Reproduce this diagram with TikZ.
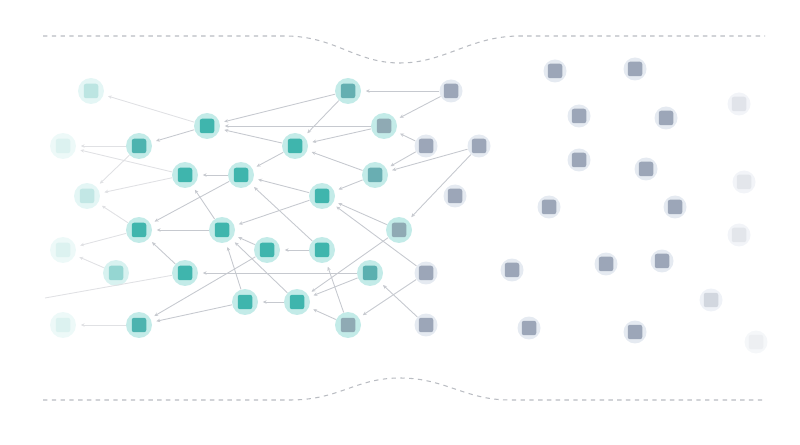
\documentclass[tikz,border=0pt]{standalone}
\usepackage{xcolor}
\usepackage{tikz}
\usetikzlibrary{arrows.meta}
\definecolor{verde}{HTML}{3FB5AD}
\definecolor{halover}{HTML}{C3EBE8}
\definecolor{grisver}{HTML}{8FAAB4}
\definecolor{gris}{HTML}{9CA6B8}
\definecolor{halogris}{HTML}{E5EAF1}
\definecolor{linea}{HTML}{C6C9CF}
\definecolor{borde}{HTML}{B9BCC2}

\begin{document}
\begin{tikzpicture}[x=0.02cm,y=-0.02cm,
  celda/.style n args={3}{circle,inner sep=0pt,fill=#2,minimum size=#3,
    path picture={\fill[#1,rounded corners=1.3pt]
      ([shift={(-0.145cm,-0.145cm)}]path picture bounding box.center) rectangle
      ([shift={(0.145cm,0.145cm)}]path picture bounding box.center);}},
  activa/.style={celda={verde}{halover}{0.52cm}},
  mixta/.style={celda={grisver}{halover}{0.52cm}},
  inerte/.style={celda={gris}{halogris}{0.46cm}},
  flecha/.style={-{Stealth[length=2.2pt,width=2pt]},line width=0.5pt,linea,shorten >=2.5pt},
  tenue/.style={flecha,linea!55},
  limite/.style={borde,line width=0.6pt,dash pattern=on 2.5pt off 2.5pt}]
\useasboundingbox (0,0) rectangle (800,445);
% bordes del canal
\draw[limite] (43,36) -- (285,36) .. controls (335,36) and (355,63) .. (400,63)
  .. controls (445,63) and (470,36) .. (520,36) -- (765,36);
\draw[limite] (43,400) -- (290,400) .. controls (340,400) and (355,378) .. (400,378)
  .. controls (445,378) and (465,400) .. (510,400) -- (765,400);
% nodos que se desvanecen a la izquierda
\node[celda={verde!35}{halover!45}{0.52cm}] (fa) at (91,91) {};
\node[celda={verde!18}{halover!30}{0.52cm}] (fb) at (63,146) {};
\node[celda={verde!32}{halover!45}{0.52cm}] (fc) at (87,196) {};
\node[celda={verde!18}{halover!30}{0.52cm}] (fd) at (63,250) {};
\node[celda={verde!55}{halover!65}{0.52cm}] (fe) at (116,273) {};
\node[celda={verde!18}{halover!30}{0.52cm}] (ff) at (63,325) {};
% nodos activos
\node[activa] (ta) at (207,126) {};
\node[activa] (tb) at (295,146) {};
\node[activa] (tc) at (185,175) {};
\node[activa] (td) at (241,175) {};
\node[activa] (te) at (322,196) {};
\node[activa] (tf) at (222,230) {};
\node[activa] (tg) at (267,250) {};
\node[activa] (th) at (322,250) {};
\node[activa] (ti) at (185,273) {};
\node[activa] (tj) at (245,302) {};
\node[activa] (tk) at (297,302) {};
\node[celda={verde!85!gris}{halover}{0.52cm}] (tl) at (139,146) {};
\node[activa] (tm) at (139,230) {};
\node[celda={verde!85!gris}{halover}{0.52cm}] (tn) at (139,325) {};
% frontera
\node[celda={verde!60!gris}{halover}{0.52cm}] (mo) at (348,91) {};
\node[mixta] (mp) at (384,126) {};
\node[celda={verde!55!gris}{halover}{0.52cm}] (mq) at (375,175) {};
\node[mixta] (mr) at (399,230) {};
\node[celda={verde!70!gris}{halover}{0.52cm}] (ms) at (370,273) {};
\node[mixta] (mt) at (348,325) {};
% nodos inertes
\node[inerte] (ga) at (451,91) {};
\node[inerte] (gb) at (426,146) {};
\node[inerte] (gc) at (479,146) {};
\node[inerte] (gd) at (455,196) {};
\node[inerte] (ge) at (426,273) {};
\node[inerte] (gf) at (426,325) {};
\node[inerte] (g1) at (555,71) {};
\node[inerte] (g2) at (635,69) {};
\node[inerte] (g3) at (579,116) {};
\node[inerte] (g4) at (666,118) {};
\node[inerte] (g5) at (579,160) {};
\node[inerte] (g6) at (646,169) {};
\node[inerte] (g7) at (549,207) {};
\node[inerte] (g8) at (675,207) {};
\node[inerte] (g9) at (512,270) {};
\node[inerte] (g10) at (606,264) {};
\node[inerte] (g11) at (662,261) {};
\node[inerte] (g12) at (529,328) {};
\node[inerte] (g13) at (635,332) {};
\node[celda={gris!30}{halogris!50}{0.46cm}] (g14) at (739,104) {};
\node[celda={gris!28}{halogris!50}{0.46cm}] (g15) at (744,182) {};
\node[celda={gris!28}{halogris!50}{0.46cm}] (g16) at (739,235) {};
\node[celda={gris!45}{halogris!60}{0.46cm}] (g17) at (711,300) {};
\node[celda={gris!18}{halogris!40}{0.46cm}] (g18) at (756,342) {};
\coordinate (fin) at (45,298);
% conexiones
\draw[flecha] (ga) -- (mo);
\draw[flecha] (ga) -- (mp);
\draw[flecha] (gb) -- (mp);
\draw[flecha] (gb) -- (mq);
\draw[flecha] (gc) -- (mq);
\draw[flecha] (gc) -- (mr);
\draw[flecha] (ge) -- (te);
\draw[flecha] (ge) -- (mt);
\draw[flecha] (gf) -- (ms);
\draw[flecha] (mo) -- (ta);
\draw[flecha] (mo) -- (tb);
\draw[flecha] (mp) -- (ta);
\draw[flecha] (mp) -- (tb);
\draw[flecha] (mq) -- (tb);
\draw[flecha] (mq) -- (te);
\draw[flecha] (mr) -- (te);
\draw[flecha] (mr) -- (tk);
\draw[flecha] (ms) -- (ti);
\draw[flecha] (ms) -- (tk);
\draw[flecha] (mt) -- (tk);
\draw[flecha] (mt) -- (th);
\draw[flecha] (tb) -- (ta);
\draw[flecha] (tb) -- (td);
\draw[flecha] (td) -- (tc);
\draw[flecha] (td) -- (tm);
\draw[flecha] (te) -- (td);
\draw[flecha] (te) -- (tf);
\draw[flecha] (th) -- (td);
\draw[flecha] (th) -- (tg);
\draw[flecha] (tg) -- (tf);
\draw[flecha] (tg) -- (tn);
\draw[flecha] (tf) -- (tc);
\draw[flecha] (tf) -- (tm);
\draw[flecha] (tj) -- (tf);
\draw[flecha] (tk) -- (tf);
\draw[flecha] (tk) -- (tj);
\draw[flecha] (tj) -- (tn);
\draw[flecha] (ti) -- (tm);
\draw[flecha] (ta) -- (tl);
\draw[tenue] (ta) -- (fa);
\draw[tenue] (tl) -- (fb);
\draw[tenue] (tc) -- (fb);
\draw[tenue] (tl) -- (fc);
\draw[tenue] (tc) -- (fc);
\draw[tenue] (tm) -- (fc);
\draw[tenue] (tm) -- (fd);
\draw[tenue] (fe) -- (fd);
\draw[tenue] (tn) -- (ff);
\draw[tenue,shorten >=0pt,-] (ti) -- (fin);
\end{tikzpicture}
\end{document}
